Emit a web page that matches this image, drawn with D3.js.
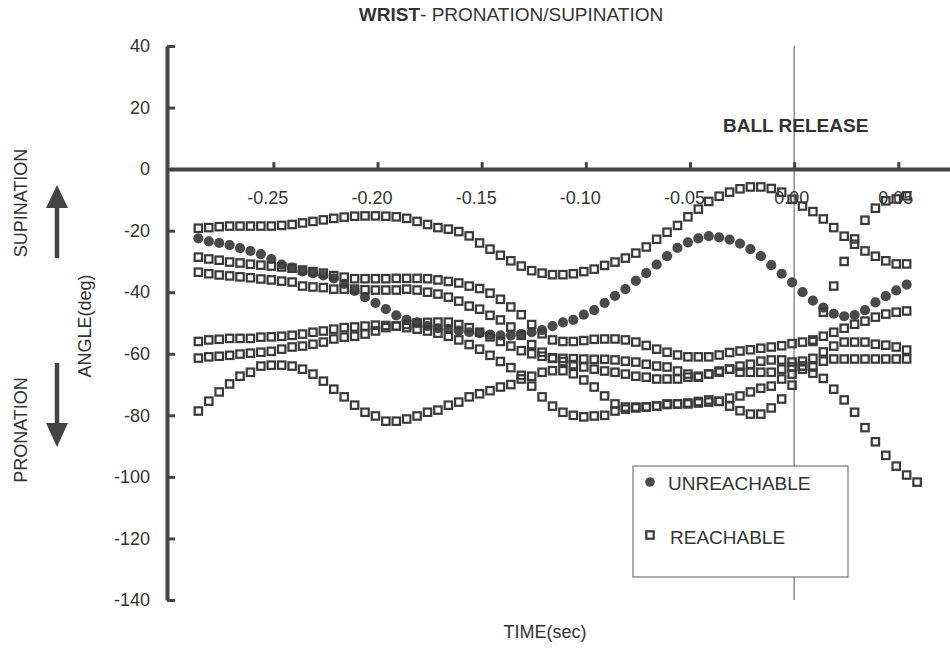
<!DOCTYPE html>
<html><head><meta charset="utf-8">
<script src="https://cdn.jsdelivr.net/npm/d3@7"></script>
<style>
body{margin:0;background:#fff}
text{font-family:"Liberation Sans",Arial,Helvetica,sans-serif;fill:#333}
</style>
</head><body>
<svg id="chart" width="950" height="648"></svg>
<script>
// ---- data ----
const times = [-0.286,-0.281,-0.276,-0.271,-0.266,-0.261,-0.256,-0.251,-0.246,-0.241,
 -0.236,-0.231,-0.226,-0.221,-0.216,-0.211,-0.206,-0.201,-0.196,-0.191,
 -0.186,-0.181,-0.176,-0.171,-0.166,-0.161,-0.156,-0.151,-0.146,-0.141,
 -0.136,-0.131,-0.126,-0.121,-0.116,-0.111,-0.106,-0.101,-0.096,-0.091,
 -0.086,-0.081,-0.076,-0.071,-0.066,-0.061,-0.056,-0.051,-0.046,-0.041,
 -0.036,-0.031,-0.026,-0.021,-0.016,-0.011,-0.006,-0.001,0.004,0.009,
 0.014,0.019,0.024,0.029,0.034,0.039,0.044,0.049,0.054,0.059];

const unreachable = [-22.5,-23.5,-24,-24.7,-25.7,-26.6,-27.6,-29.2,-31,-32,
 -33.2,-33.8,-34.5,-35.5,-37.3,-39.6,-41.6,-43.5,-45.5,-47.5,
 -49,-49.8,-51,-51.7,-52,-52.5,-53,-53.3,-53.8,-54,
 -54,-53.6,-53,-52.3,-51,-49.8,-49,-47.3,-45.8,-43.5,
 -41.2,-39,-36.3,-33.8,-31,-28.3,-25.6,-23.8,-22.5,-21.8,
 -22.2,-22.9,-24.2,-26,-28.3,-31.2,-34,-36.8,-40,-42.7,
 -45,-47,-47.8,-47.4,-45.8,-43.3,-41.3,-39.4,-37.5];

const reachA = [-19.2,-19,-18.7,-18.5,-18.5,-18.5,-18.5,-18.5,-18.3,-18,
 -17.5,-17,-16.5,-16,-15.6,-15.3,-15.2,-15.2,-15.3,-15.5,
 -16,-17,-18,-19,-19.5,-20.3,-21.7,-24,-26,-28,
 -29.8,-31.5,-33,-33.8,-34.3,-34.3,-34,-33.3,-32.5,-31.3,
 -30.2,-28.9,-27.3,-25.3,-22.8,-20.5,-18.3,-15.5,-13,-10.5,
 -8.8,-7.5,-6.4,-5.8,-5.8,-6.3,-7.5,-9.8,-12,-13.8,
 -16.2,-19,-21.8,-24.4,-26.6,-28.3,-29.8,-30.8,-30.8];

const reachB = [-28.6,-29.2,-29.6,-30.2,-30.5,-30.9,-31.2,-31.5,-31.8,-32.2,
 -32.8,-33.3,-33.8,-34.6,-35.1,-35.6,-35.6,-35.6,-35.6,-35.5,
 -35.5,-35.5,-35.6,-36,-36.5,-37,-38,-38.8,-40.3,-42.3,
 -44.8,-47.3,-50.5,-53.5,-55.5,-56,-56,-55.7,-55.3,-55.2,
 -55.2,-55.5,-56.2,-57.3,-58.5,-59.5,-60.4,-61,-61,-61,
 -60.4,-59.6,-59.1,-58.7,-58.2,-57.8,-57.4,-56.7,-56.2,-55.5,
 -54.3,-53,-51.7,-50.4,-49.4,-48.1,-47.1,-46.5,-46.1];

const reachC = [-33.5,-34,-34.4,-34.7,-35,-35.3,-35.7,-36,-36.4,-36.7,
 -38,-38.3,-38.5,-39,-39,-39,-39.2,-39.3,-39.3,-39.3,
 -39,-39.3,-40,-40.6,-41.6,-42.9,-44.5,-45.5,-47.5,-49,
 -51.3,-54,-57,-59.5,-61.5,-62.5,-63.5,-64.3,-65,-65.6,
 -66,-66.6,-67.3,-67.6,-68.2,-68.2,-68.2,-67.6,-67.6,-66.6,
 -65.6,-65,-66,-66,-66,-66,-65,-64.3,-64,-64.3,
 -62.4,-61.7,-61.7,-61.7,-61.7,-61.7,-61.7,-61.7,-61.7];

const reachD = [-56,-55.5,-55.3,-55,-55,-55,-54.6,-54.5,-54.3,-54,
 -53.6,-53,-52.6,-52,-51.5,-51.3,-51,-50.7,-50.8,-51,
 -51.5,-52,-52.6,-53.3,-54.3,-55.5,-57,-58.5,-60.5,-62.5,
 -64.5,-67,-70.5,-74,-77,-79,-80,-80.5,-80.2,-80,
 -78.6,-78,-77.6,-77.3,-77,-76.5,-76.3,-76,-75.5,-75,
 -75.5,-77,-78.5,-79.6,-79.6,-77.6,-74.7,-70.2,-64,-56,
 -46.5,-38,-30,-22.7,-16.6,-12.7,-10.3,-9.7,-8.7];

const reachE = [-61.4,-61,-60.8,-60.5,-60.1,-59.8,-59.5,-59.2,-58.5,-57.8,
 -57.5,-56.9,-56.2,-55.2,-54.6,-54.3,-53.6,-52.6,-51.5,-51,
 -50.5,-50,-49.8,-49.7,-49.7,-50.5,-51.5,-53,-54.5,-56,
 -57.5,-59,-60,-60.8,-61.3,-61.5,-61.6,-61.7,-61.8,-61.8,
 -62,-62.4,-62.7,-63.4,-64,-64.3,-65.6,-66.6,-67.3,-66.6,
 -66,-65,-64,-63.4,-62.4,-62,-62,-62.7,-62.4,-61.5,
 -59.4,-57.5,-56.2,-56.2,-56.2,-56.9,-57.2,-57.8,-58.8];

const reachF = [-78.6,-75.4,-72.4,-69.8,-67.3,-66,-64,-63.7,-63.7,-64,
 -65,-66.6,-68.9,-71.5,-74,-76.7,-79,-80.2,-81.9,-81.9,
 -81.2,-80.2,-79,-78.3,-76.7,-75.7,-74,-73,-72,-70.8,
 -70,-68.2,-67.3,-66,-65.5,-65.5,-66.5,-68.5,-70.8,-73.7,
 -76.3,-77.3,-77.3,-77.3,-77,-76.3,-76.3,-76.3,-76,-75.7,
 -75.4,-74.4,-73.7,-72.4,-71.2,-70.5,-68.2,-66.6,-65,-66.3,
 -68,-71.5,-75,-79,-84,-88.6,-93,-96.5,-99.4,-101.7];

const reachableSeries = [reachA, reachB, reachC, reachD, reachE, reachF];
const xTicks = [-0.25,-0.20,-0.15,-0.10,-0.05,0.00,0.05];
const yTicks = [40,20,0,-20,-40,-60,-80,-100,-120,-140];
const titleBold = "WRIST";
const titleRest = "- PRONATION/SUPINATION";
const xLabel = "TIME(sec)";
const yLabel = "ANGLE(deg)";
const upLabel = "SUPINATION";
const downLabel = "PRONATION";
const releaseLabel = "BALL RELEASE";
const legendLabels = ["UNREACHABLE","REACHABLE"];

// ---- drawing ----
const ink = "#444";
const svg = d3.select("#chart");
const x = d3.scaleLinear().domain([-0.3, 0.075]).range([169.2, 950.4]);
const y = d3.scaleLinear().domain([-140, 40]).range([600, 46]);

// release line
svg.append("line").attr("x1", x(0)).attr("x2", x(0))
  .attr("y1", y(40)).attr("y2", y(-140))
  .attr("stroke", "#666").attr("stroke-width", 1.1);

// y axis
const yAxis = d3.axisLeft(y).tickValues(yTicks).tickSizeInner(-8).tickSizeOuter(0)
  .tickPadding(17);
const gy = svg.append("g").attr("transform", "translate(167,0)").call(yAxis);
gy.select(".domain").attr("stroke", ink).attr("stroke-width", 4);
gy.selectAll(".tick line").attr("stroke", ink).attr("stroke-width", 3);
gy.selectAll(".tick text").style("font-size", "18px").attr("fill", "#2e2e2e")
  .text(d => String(d));

// x axis
const xAxis = d3.axisBottom(x).tickValues(xTicks).tickSizeInner(-7).tickSizeOuter(0)
  .tickPadding(22);
const gx = svg.append("g").attr("transform", `translate(0,${y(0)})`).call(xAxis);
gx.select(".domain").attr("stroke", ink).attr("stroke-width", 4);
gx.selectAll(".tick line").attr("stroke", ink).attr("stroke-width", 3);
gx.selectAll(".tick text").style("font-size", "18px").attr("fill", "#2e2e2e")
  .attr("dx", d => d < 0 ? -6 : -3)
  .text(d => d.toFixed(2));

// unreachable circles
svg.append("g").selectAll("circle").data(unreachable).join("circle")
  .attr("cx", (d, i) => x(times[i])).attr("cy", d => y(d))
  .attr("r", 5.1).attr("fill", "#4a4a4a");

// reachable squares
const sq = 7.4;
svg.append("g").selectAll("g").data(reachableSeries).join("g")
  .selectAll("rect").data(s => s).join("rect")
  .attr("x", (d, i) => x(times[i]) - sq / 2).attr("y", d => y(d) - sq / 2)
  .attr("width", sq).attr("height", sq)
  .attr("fill", "none").attr("stroke", "#3a3a3a").attr("stroke-width", 2.2);

// title
const title = svg.append("text").attr("x", 511).attr("y", 21).attr("text-anchor", "middle")
  .style("font-size", "19px");
title.append("tspan").attr("font-weight", "bold").text(titleBold);
title.append("tspan").text(titleRest);

// ball release
svg.append("text").attr("x", 723).attr("y", 132).attr("font-weight", "bold")
  .style("font-size", "19px").text(releaseLabel);

// x label
svg.append("text").attr("x", 545).attr("y", 638).attr("text-anchor", "middle")
  .style("font-size", "18px").text(xLabel);

// y labels
svg.append("text").attr("transform", "translate(91,326) rotate(-90)").attr("text-anchor", "middle")
  .style("font-size", "18px").text(yLabel);
svg.append("text").attr("transform", "translate(27,203) rotate(-90)").attr("text-anchor", "middle")
  .style("font-size", "18px").text(upLabel);
svg.append("text").attr("transform", "translate(27,430) rotate(-90)").attr("text-anchor", "middle")
  .style("font-size", "18px").text(downLabel);

// arrows
const arrowCol = "#444";
svg.append("line").attr("x1", 57).attr("x2", 57).attr("y1", 258).attr("y2", 205)
  .attr("stroke", arrowCol).attr("stroke-width", 4.5);
svg.append("path").attr("d", "M57,185 L68,208 L46,208 Z").attr("fill", arrowCol);
svg.append("line").attr("x1", 57).attr("x2", 57).attr("y1", 363).attr("y2", 426)
  .attr("stroke", arrowCol).attr("stroke-width", 4.5);
svg.append("path").attr("d", "M57,447 L68,423 L46,423 Z").attr("fill", arrowCol);

// legend
const lg = svg.append("g");
lg.append("rect").attr("x", 633).attr("y", 466).attr("width", 215).attr("height", 111)
  .attr("fill", "#fff").attr("stroke", "#777").attr("stroke-width", 1.2);
lg.append("circle").attr("cx", 650).attr("cy", 482).attr("r", 4.8).attr("fill", "#4a4a4a");
lg.append("rect").attr("x", 646.3).attr("y", 531.3).attr("width", 7.4).attr("height", 7.4)
  .attr("fill", "none").attr("stroke", "#3a3a3a").attr("stroke-width", 2.2);
lg.append("text").attr("x", 668).attr("y", 490).style("font-size", "19px").text(legendLabels[0]);
lg.append("text").attr("x", 670).attr("y", 544).style("font-size", "19px").text(legendLabels[1]);
</script>
</body></html>
